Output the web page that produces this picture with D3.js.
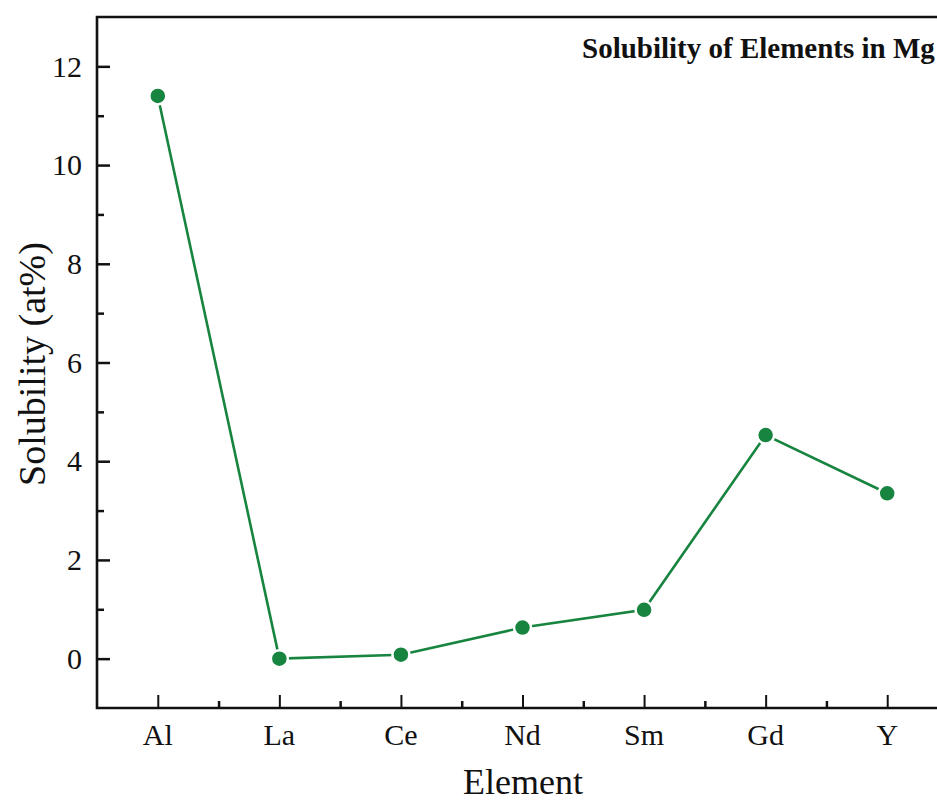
<!DOCTYPE html>
<html>
<head>
<meta charset="utf-8">
<script src="https://cdn.jsdelivr.net/npm/d3@7"></script>
<style>
  html, body { margin: 0; padding: 0; background: #fff; overflow: hidden; }
  svg { display: block; }
  text { font-family: "Liberation Serif", "Times New Roman", serif; fill: #111; }
</style>
</head>
<body>
<svg id="chart" width="937" height="803"></svg>
<script>
const categories = ["Al", "La", "Ce", "Nd", "Sm", "Gd", "Y"];
const solubility = [11.4, 0.0, 0.08, 0.63, 0.99, 4.53, 3.35];
const yMajorTicks = [0, 2, 4, 6, 8, 10, 12];
const yMinorTicks = [1, 3, 5, 7, 9, 11];
const chartTitle = "Solubility of Elements in Mg";
const xTitle = "Element";
const yTitle = "Solubility (at%)";

(function () {
const svg = d3.select("#chart");
const pLeft = 97, pRight = 948, pTop = 17, pBottom = 708;
const green = "#17843f";

const x = d3.scaleLinear().domain([-0.5, categories.length - 0.5]).range([pLeft, pRight]);
const y = d3.scaleLinear().domain([-1, 13]).range([pBottom, pTop]);

// Line
const line = d3.line().x((d, i) => x(i)).y(d => y(d));
svg.append("path")
  .datum(solubility)
  .attr("d", line)
  .attr("fill", "none")
  .attr("stroke", green)
  .attr("stroke-width", 2.6);

// Markers
svg.selectAll("circle.pt")
  .data(solubility)
  .enter().append("circle")
  .attr("class", "pt")
  .attr("cx", (d, i) => x(i))
  .attr("cy", d => y(d))
  .attr("r", 8.5)
  .attr("fill", green)
  .attr("stroke", "#fff")
  .attr("stroke-width", 2.5);

// Y axis (ticks inward)
const yAxis = d3.axisRight(y).tickValues(yMajorTicks).tickSize(13).tickFormat("");
const gy = svg.append("g").attr("transform", `translate(${pLeft},0)`).call(yAxis);
gy.select(".domain").remove();
gy.selectAll(".tick line").attr("stroke", "#111").attr("stroke-width", 2.5);
const yAxisMinor = d3.axisRight(y).tickValues(yMinorTicks).tickSize(7).tickFormat("");
const gym = svg.append("g").attr("transform", `translate(${pLeft},0)`).call(yAxisMinor);
gym.select(".domain").remove();
gym.selectAll(".tick line").attr("stroke", "#111").attr("stroke-width", 2.5);

svg.append("g").selectAll("text")
  .data(yMajorTicks)
  .enter().append("text")
  .attr("x", pLeft - 15)
  .attr("y", d => y(d))
  .attr("dy", "0.34em")
  .attr("text-anchor", "end")
  .attr("font-size", 30)
  .text(d => d);

// X axis (ticks inward)
const xMajor = categories.map((c, i) => i);
const xMinor = categories.slice(0, -1).map((c, i) => i + 0.5);
const xAxis = d3.axisTop(x).tickValues(xMajor).tickSize(13).tickFormat("");
const gx = svg.append("g").attr("transform", `translate(0,${pBottom})`).call(xAxis);
gx.select(".domain").remove();
gx.selectAll(".tick line").attr("stroke", "#111").attr("stroke-width", 2);
const xAxisMinor = d3.axisTop(x).tickValues(xMinor).tickSize(7).tickFormat("");
const gxm = svg.append("g").attr("transform", `translate(0,${pBottom})`).call(xAxisMinor);
gxm.select(".domain").remove();
gxm.selectAll(".tick line").attr("stroke", "#111").attr("stroke-width", 2.5);

svg.append("g").selectAll("text")
  .data(categories)
  .enter().append("text")
  .attr("x", (d, i) => x(i))
  .attr("y", pBottom + 37)
  .attr("text-anchor", "middle")
  .attr("font-size", 30)
  .text(d => d);

// Frame lines (left, bottom, top)
svg.append("path")
  .attr("d", `M${pRight},${pTop}H${pLeft}V${pBottom}H${pRight}`)
  .attr("fill", "none")
  .attr("stroke", "#111")
  .attr("stroke-width", 2.6);

// Titles
svg.append("text")
  .attr("x", 582)
  .attr("y", 58)
  .attr("font-size", 29)
  .attr("font-weight", "bold")
  .text(chartTitle);

svg.append("text")
  .attr("x", 523)
  .attr("y", 794)
  .attr("text-anchor", "middle")
  .attr("font-size", 36)
  .text(xTitle);

svg.append("text")
  .attr("transform", `translate(45,364) rotate(-90)`)
  .attr("text-anchor", "middle")
  .attr("font-size", 38)
  .text(yTitle);
})();
</script>
</body>
</html>
